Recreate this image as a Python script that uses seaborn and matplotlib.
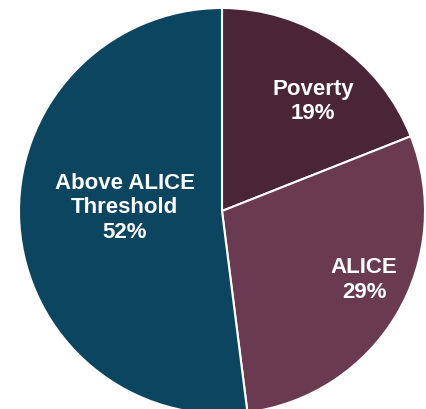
import matplotlib
matplotlib.use("Agg")
import matplotlib.pyplot as plt
import seaborn as sns

categories = ["Poverty", "ALICE", "Above ALICE\nThreshold"]
shares = [19, 29, 52]
colors = ["#4a2535", "#6a3a50", "#0b4560"]
# label anchor points inside each wedge (data units, pie radius = 1)
label_pos = [(0.45, 0.54), (0.70, -0.34), (-0.48, 0.015)]

sns.set_theme(style="white")
plt.rcParams["font.family"] = ["Liberation Sans", "DejaVu Sans"]

fig = plt.figure(figsize=(4.27, 4.09), dpi=100)
ax = fig.add_axes([0, 0, 1, 1])
ax.pie(shares, colors=colors, startangle=90, counterclock=False,
       wedgeprops=dict(edgecolor="white", linewidth=1.5))
for name, val, (x, y) in zip(categories, shares, label_pos):
    ax.text(x, y, f"{name}\n{val}%", ha="center", va="center",
            color="white", fontsize=16, fontweight="bold", linespacing=1.2)
r = 203
ax.set_xlim(-222 / r, 205 / r)
ax.set_ylim(-198 / r, 211 / r)
ax.set_aspect("equal")
ax.axis("off")
plt.savefig("out.png", dpi=100)
plt.close()
